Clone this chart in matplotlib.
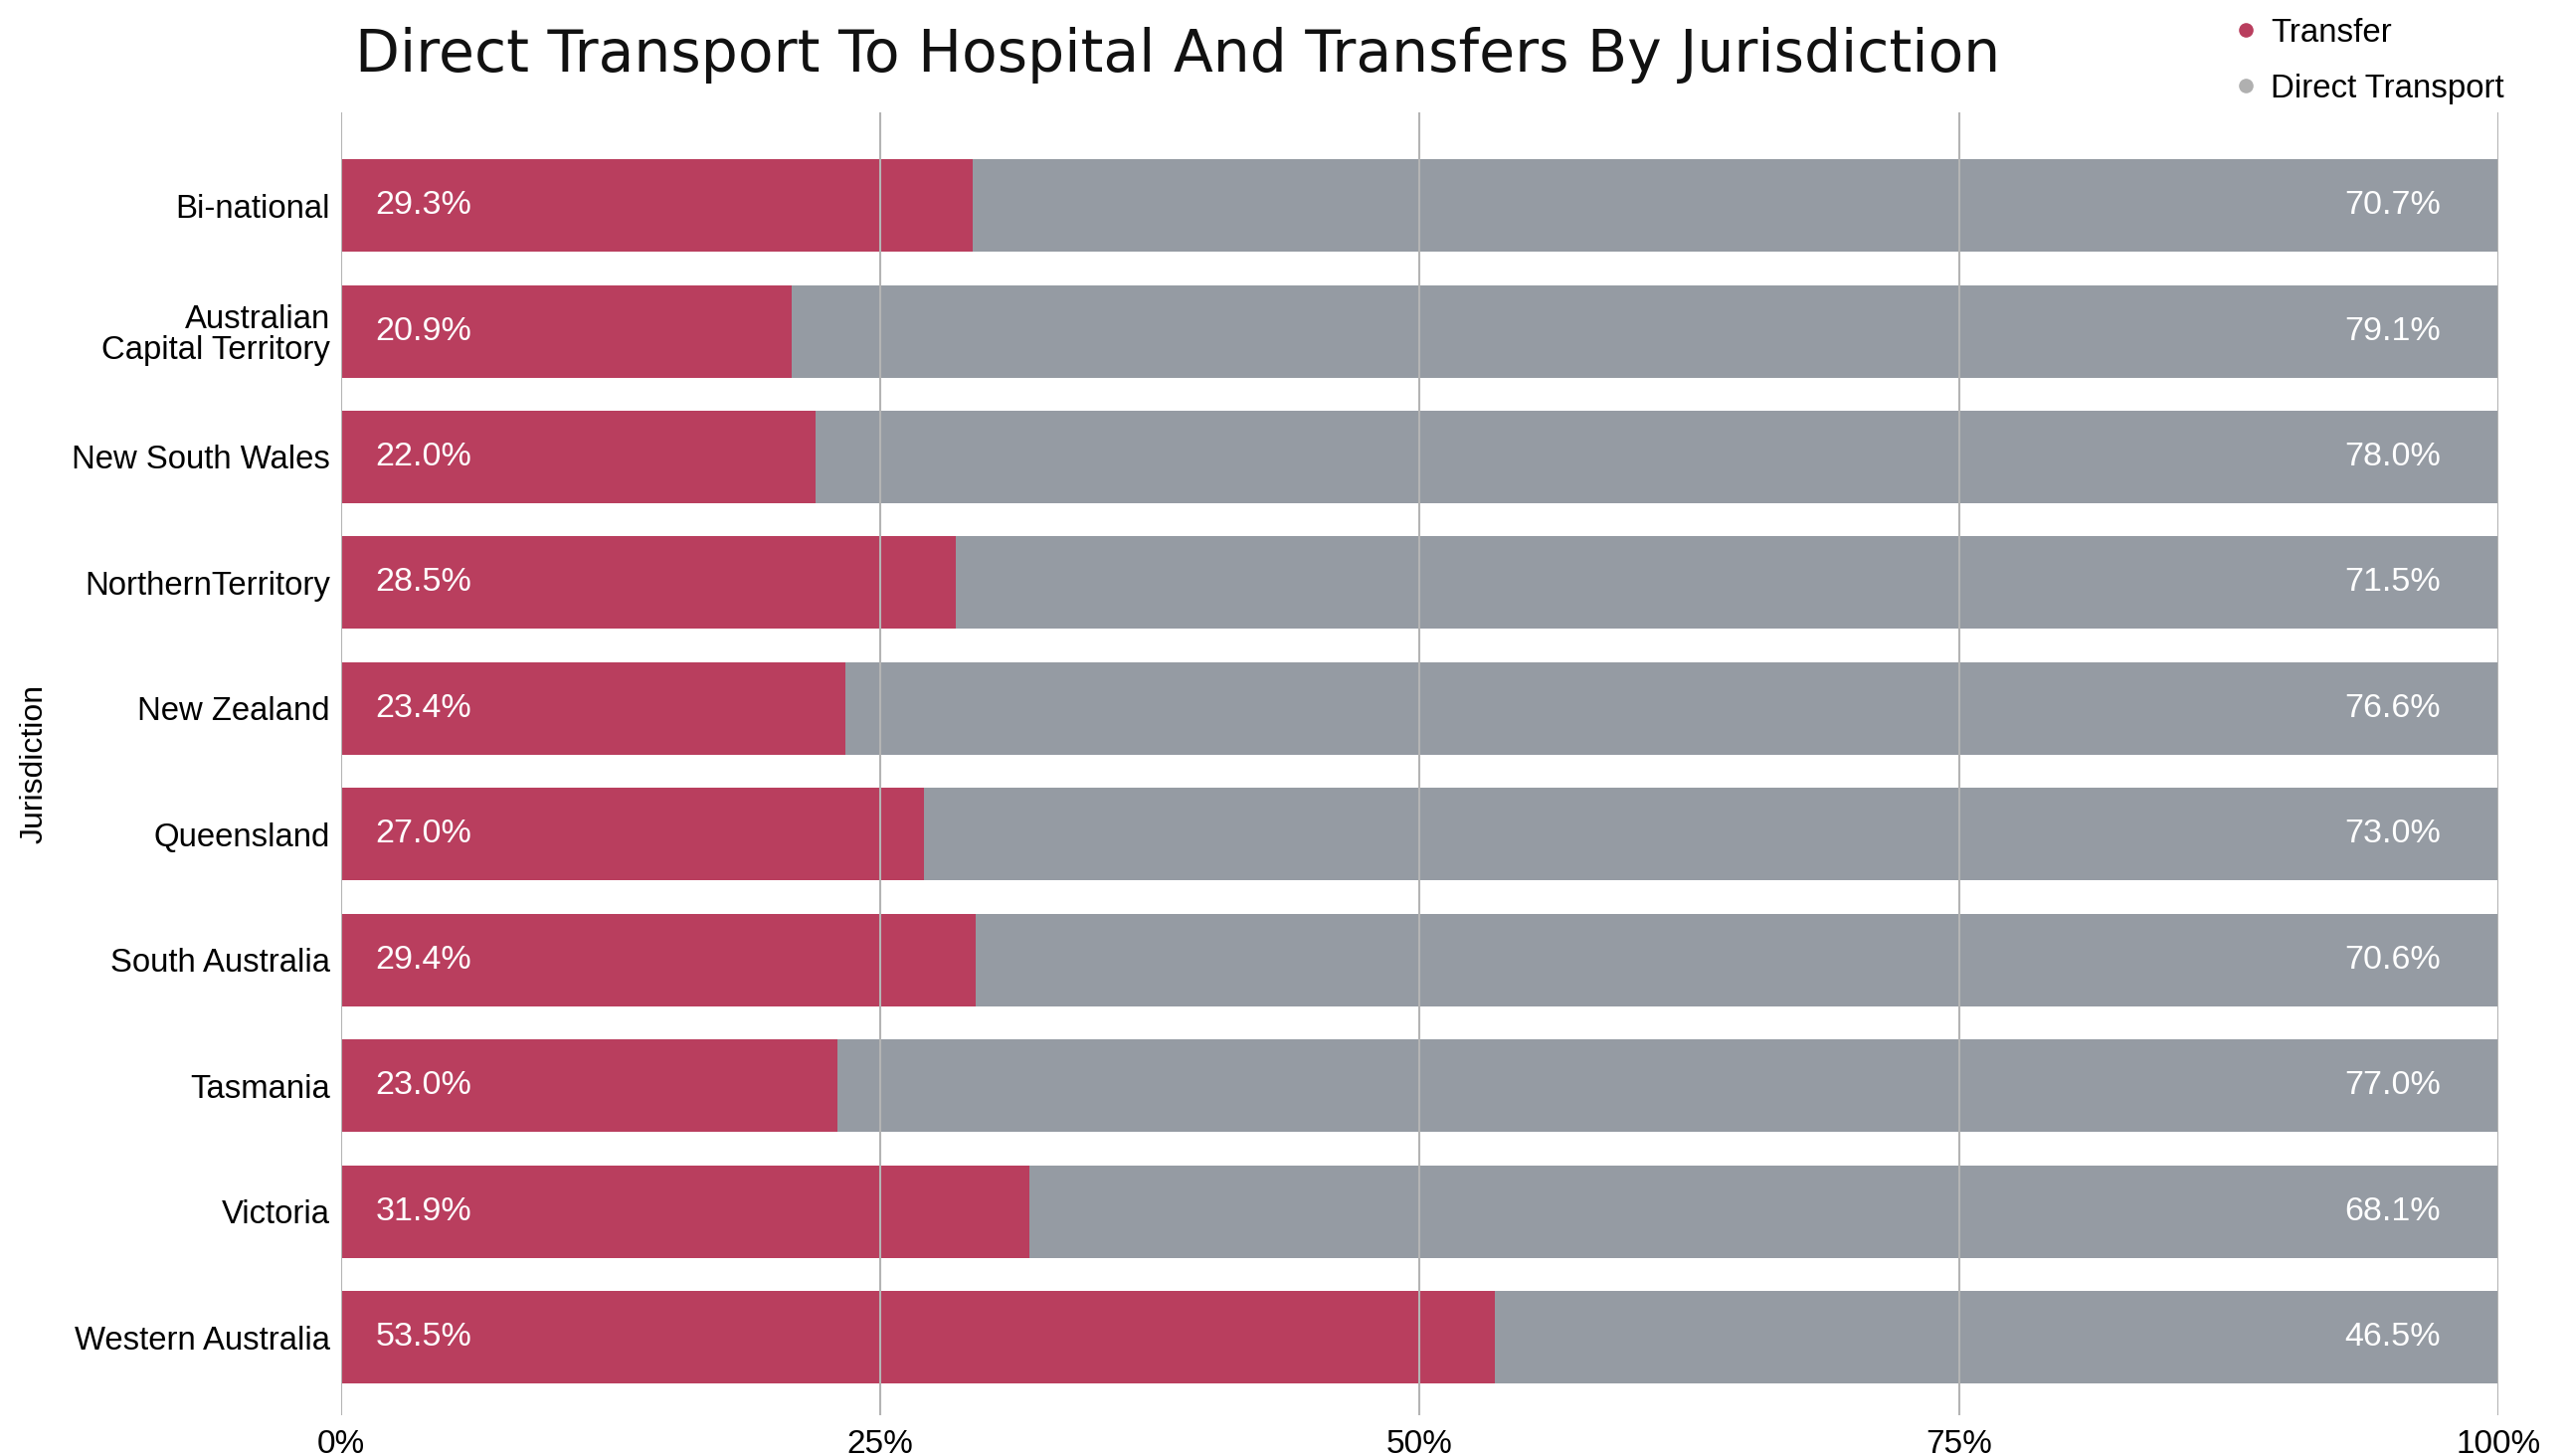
import matplotlib
matplotlib.use("Agg")
import matplotlib.pyplot as plt
from matplotlib.lines import Line2D
import numpy as np

jurisdictions = ["Bi-national", "Australian\nCapital Territory", "New South Wales",
                 "NorthernTerritory", "New Zealand", "Queensland", "South Australia",
                 "Tasmania", "Victoria", "Western Australia"]
transfer = [29.3, 20.9, 22.0, 28.5, 23.4, 27.0, 29.4, 23.0, 31.9, 53.5]
direct = [70.7, 79.1, 78.0, 71.5, 76.6, 73.0, 70.6, 77.0, 68.1, 46.5]
xticks = [0, 25, 50, 75, 100]
xtick_labels = ["0%", "25%", "50%", "75%", "100%"]

RED = "#b93e5e"
GREY = "#959ba3"
GRID = "#b4b4b4"

plt.rcParams['font.family'] = ['Liberation Sans', 'DejaVu Sans']

fig = plt.figure(figsize=(25.82, 14.64), dpi=100)
ax = fig.add_axes([0.1328, 0.028, 0.9729 - 0.1328, 0.9228 - 0.028])

y = np.arange(len(jurisdictions))
ax.barh(y, transfer, height=0.735, color=RED, zorder=1)
ax.barh(y, direct, left=transfer, height=0.735, color=GREY, zorder=1)

for yi, t, d in zip(y, transfer, direct):
    ax.annotate(f"{t:.1f}%", xy=(0, yi), xytext=(25, 0), textcoords="offset points",
                ha="left", va="center", color="white", fontsize=24.5, zorder=4)
    ax.annotate(f"{d:.1f}%", xy=(t + d, yi), xytext=(-42, 0), textcoords="offset points",
                ha="right", va="center", color="white", fontsize=24.5, zorder=4)

ax.set_xlim(0, 100)
ax.set_ylim(9.62, -0.74)
ax.set_yticks(y)
ax.set_yticklabels(jurisdictions, fontsize=23.7, linespacing=1.0)
ax.set_xticks(xticks)
ax.set_xticklabels(xtick_labels, fontsize=24)
ax.tick_params(axis="both", length=0)
ax.tick_params(axis="y", pad=8)
ax.tick_params(axis="x", pad=10)
for s in ax.spines.values():
    s.set_visible(False)
ax.grid(axis="x", color=GRID, linewidth=1.5, zorder=3)
ax.set_axisbelow(False)
ax.set_ylabel("Jurisdiction", fontsize=23, labelpad=16)

fig.text(0.1383, 0.9508, "Direct Transport To Hospital And Transfers By Jurisdiction",
         fontsize=42, family=["DejaVu Sans"], fontweight="normal",
         ha="left", va="baseline", color="#111111")

handles = [Line2D([], [], marker="o", linestyle="none", color=RED, markersize=9.5),
           Line2D([], [], marker="o", linestyle="none", color="#b0b0b0", markersize=9.5)]
fig.legend(handles, ["Transfer", "Direct Transport"], loc="upper left",
           bbox_to_anchor=(0.858, 1.008), frameon=False, fontsize=23.8,
           handlelength=0.8, handletextpad=0.35, labelspacing=0.75)

fig.savefig("out.png", dpi=100)
